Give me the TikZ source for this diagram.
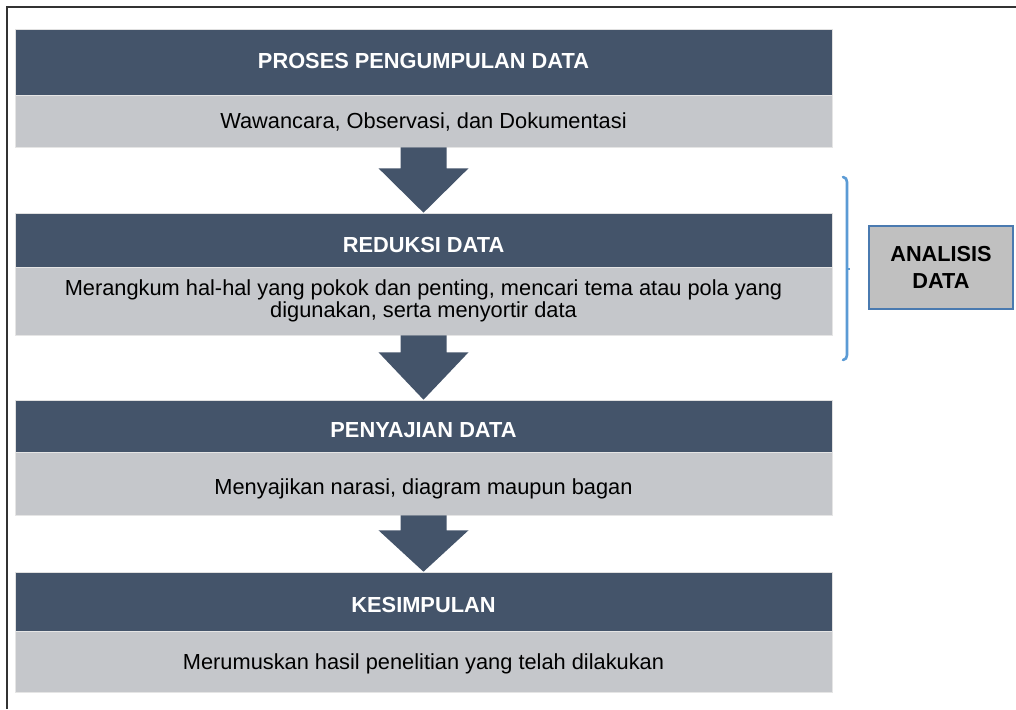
\documentclass[tikz,border=0pt]{standalone}
\usepackage{fontspec}
\setmainfont{Liberation Sans}
\usetikzlibrary{calc}
\definecolor{darkhead}{HTML}{44546A}
\definecolor{lightbody}{HTML}{C5C7CB}
\definecolor{bracketblue}{HTML}{5B9BD5}
\definecolor{boxblue}{HTML}{4A7AB0}
\definecolor{boxgray}{HTML}{C0C0C0}
\tikzset{
  headbox/.style={rectangle, fill=darkhead, draw=black!12, line width=0.6pt, minimum width=817pt, inner sep=0pt, text=white, font=\fontsize{21.8}{22}\selectfont\bfseries, align=center},
  bodybox/.style={rectangle, fill=lightbody, draw=black!10, line width=0.6pt, minimum width=817pt, inner sep=0pt, text=black, font=\fontsize{21.8}{22}\selectfont, align=center},
  tdown/.style 2 args={text height=#1, text depth=#2},
  flowarrow/.style={fill=darkhead},
}
\newcommand{\flowarr}[3]{% from node, to node, head top offset from start
  \fill[flowarrow] ($(#1.south)+(-23pt,0)$) -- ($(#1.south)+(23pt,0)$) -- ($(#1.south)+(23pt,-#3)$) -- ($(#1.south)+(45pt,-#3)$) -- (#2.north) -- ($(#1.south)+(-45pt,-#3)$) -- ($(#1.south)+(-23pt,-#3)$) -- cycle;
}
\begin{document}
\begin{tikzpicture}[x=1pt,y=-1pt]
\useasboundingbox (0,0) rectangle (1016,709);
\fill[white] (0,0) rectangle (1016,709);
% outer frame
\draw[black!80, line width=1.8pt] (7,709) -- (7,7) -- (1016,7);
% boxes
\node[headbox, minimum height=66pt, tdown={18pt}{5pt}] (h1) at (423.5,62) {PROSES PENGUMPULAN DATA};
\node[bodybox, minimum height=52pt, tdown={19pt}{4pt}] (b1) at (423.5,121) {Wawancara, Observasi, dan Dokumentasi};
\node[headbox, minimum height=54pt, tdown={25pt}{-2pt}] (h2) at (423.5,240) {REDUKSI DATA};
\node[bodybox, minimum height=68pt] (b2) at (423.5,301) {Merangkum hal-hal yang pokok dan penting, mencari tema atau pola yang\\digunakan, serta menyortir data};
\node[headbox, minimum height=52pt, tdown={23pt}{0pt}] (h3) at (423.5,426) {PENYAJIAN DATA};
\node[bodybox, minimum height=63pt, tdown={22pt}{1pt}] (b3) at (423.5,483.5) {Menyajikan narasi, diagram maupun bagan};
\node[headbox, minimum height=59pt, tdown={22pt}{1pt}] (h4) at (423.5,601.5) {KESIMPULAN};
\node[bodybox, minimum height=61pt, tdown={19pt}{4pt}] (b4) at (423.5,661.5) {Merumuskan hasil penelitian yang telah dilakukan};
% arrows
\flowarr{b1}{h2}{21pt}
\flowarr{b2}{h3}{17pt}
\flowarr{b3}{h4}{15pt}
% bracket
\coordinate (brt) at (847,177);
\coordinate (brb) at (847,360);
\coordinate (brm) at (847,268.5);
\draw[bracketblue, line width=2.6pt, line cap=round] ($(brt)+(-4,0)$) to[out=0,in=90] ($(brt)+(0,5)$) -- ($(brb)+(0,-5)$) to[out=-90,in=0] ($(brb)+(-4,0)$);
\draw[bracketblue, line width=2pt] (brm) -- ($(brm)+(3,0)$);
% analysis box
\node[rectangle, fill=boxgray, draw=boxblue, line width=2.5pt, minimum width=144pt, minimum height=83pt, inner sep=0pt, align=center, font=\fontsize{21.7}{27}\selectfont\bfseries] (ad) at (941,267.5) {ANALISIS\\DATA};
\end{tikzpicture}
\end{document}
